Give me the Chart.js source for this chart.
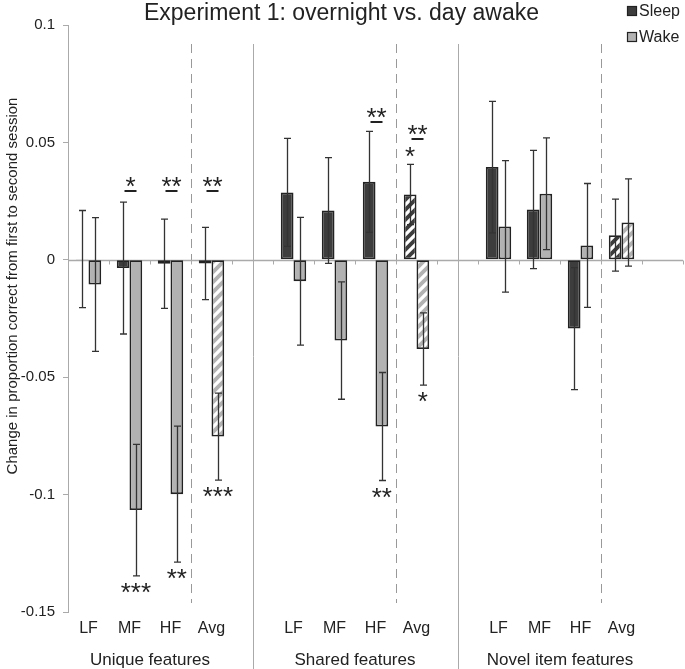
<!DOCTYPE html>
<html>
<head>
<meta charset="utf-8">
<script src="https://cdn.jsdelivr.net/npm/chart.js@4.4.0/dist/chart.umd.min.js"></script>
<style>
  html, body { margin: 0; padding: 0; background: #fff; }
</style>
</head>
<body>
<canvas id="chart" width="685" height="669"></canvas>
<script>
// categories: 3 groups of 4, with an empty slot after each group
const categories = ['LF', 'MF', 'HF', 'Avg', '', 'LF', 'MF', 'HF', 'Avg', '', 'LF', 'MF', 'HF', 'Avg', ''];
const groups = ['Unique features', 'Shared features', 'Novel item features'];

const sleep    = [0.0003, -0.0035, -0.0017, -0.0016, null, 0.0287, 0.0210, 0.0332, 0.0278, null, 0.0395, 0.0214, -0.0293, 0.0105, null];
const wake     = [-0.0105, -0.1066, -0.0998, -0.0753, null, -0.0091, -0.0344, -0.0710, -0.0380, null, 0.0142, 0.0281, 0.0061, 0.0159, null];
const sleepErr = [0.0207, 0.0281, 0.0190, 0.0154, null, 0.0230, 0.0225, 0.0215, 0.0128, null, 0.0280, 0.0252, 0.0260, 0.0153, null];
const wakeErr  = [0.0285, 0.0280, 0.0290, 0.0185, null, 0.0272, 0.0250, 0.0230, 0.0154, null, 0.0280, 0.0238, 0.0264, 0.0186, null];

const yTicks = [0.1, 0.05, 0, -0.05, -0.1, -0.15];
const yTitle = 'Change in proportion correct from first to second session';

// significance: sleep vs wake (bracket), and vs zero (next to the error bar)
const sigPairs = [
  { cat: 1, text: '*',  level: 0.0295 },
  { cat: 2, text: '**', level: 0.0295 },
  { cat: 3, text: '**', level: 0.0295 },
  { cat: 7, text: '**', level: 0.0585 },
  { cat: 8, text: '**', level: 0.0516 },
];
const sigSingle = [
  { cat: 1, series: 1, text: '***' },
  { cat: 2, series: 1, text: '**' },
  { cat: 3, series: 1, text: '***' },
  { cat: 7, series: 1, text: '**' },
  { cat: 8, series: 0, text: '*' },
  { cat: 8, series: 1, text: '*' },
];

const FONT = "'Liberation Sans', Arial, sans-serif";
const SLEEP_COL = '#3d3d3d';
const WAKE_COL = '#b2b2b2';

Chart.defaults.font.family = FONT;
Chart.defaults.color = '#222';

const ctx = document.getElementById('chart').getContext('2d');

function hatch(bg) {
  const t = document.createElement('canvas');
  t.width = 10; t.height = 10;
  const g = t.getContext('2d');
  g.fillStyle = bg;
  g.fillRect(0, 0, 10, 10);
  g.strokeStyle = '#fff';
  g.lineWidth = 3.2;
  g.beginPath();
  g.moveTo(-1, 11); g.lineTo(11, -1);
  g.moveTo(-3, 3); g.lineTo(3, -3);
  g.moveTo(7, 13); g.lineTo(13, 7);
  g.stroke();
  return ctx.createPattern(t, 'repeat');
}

const isAvg = categories.map(c => c === 'Avg');
const sleepFill = isAvg.map(a => a ? hatch(SLEEP_COL) : SLEEP_COL);
const wakeFill = isAvg.map(a => a ? hatch(WAKE_COL) : WAKE_COL);
const errs = [sleepErr, wakeErr];

const decorations = {
  id: 'decorations',
  beforeDatasetsDraw(chart) {
    const { ctx, chartArea, scales: { x, y } } = chart;
    const half = (x.getPixelForValue(1) - x.getPixelForValue(0)) / 2;
    ctx.save();
    // group separators
    ctx.strokeStyle = '#aaa';
    ctx.lineWidth = 1;
    [4, 9].forEach(i => {
      const px = Math.round(x.getPixelForValue(i)) + 0.5;
      ctx.beginPath();
      ctx.moveTo(px, chartArea.top + 19);
      ctx.lineTo(px, chart.height);
      ctx.stroke();
    });
    // dashed lines before Avg
    ctx.strokeStyle = '#999';
    ctx.setLineDash([9, 6]);
    [3, 8, 13].forEach(i => {
      const px = Math.round(x.getPixelForValue(i) - half) + 0.5;
      ctx.beginPath();
      ctx.moveTo(px, chartArea.top + 19);
      ctx.lineTo(px, chartArea.bottom - 9);
      ctx.stroke();
    });
    ctx.setLineDash([]);
    // zero line with ticks
    const y0 = Math.round(y.getPixelForValue(0)) + 0.5;
    ctx.strokeStyle = '#aaa';
    ctx.lineWidth = 1.5;
    ctx.beginPath();
    ctx.moveTo(chartArea.left, y0);
    ctx.lineTo(chartArea.right, y0);
    ctx.stroke();
    ctx.lineWidth = 1;
    for (let i = 0; i < categories.length; i++) {
      const px = Math.round(x.getPixelForValue(i) + half) + 0.5;
      ctx.beginPath();
      ctx.moveTo(px, y0);
      ctx.lineTo(px, y0 + 4);
      ctx.stroke();
    }
    ctx.restore();
  },
  afterDatasetsDraw(chart) {
    const { ctx, chartArea, scales: { x, y } } = chart;
    ctx.save();
    // error bars
    ctx.strokeStyle = '#333';
    ctx.lineWidth = 1.3;
    chart.data.datasets.forEach((ds, d) => {
      const meta = chart.getDatasetMeta(d);
      ds.data.forEach((v, i) => {
        if (v === null) return;
        const e = errs[d][i];
        const px = Math.round(meta.data[i].x) + 0.5;
        const t = y.getPixelForValue(v + e), b = y.getPixelForValue(v - e);
        ctx.beginPath();
        ctx.moveTo(px, t); ctx.lineTo(px, b);
        ctx.moveTo(px - 3.5, t); ctx.lineTo(px + 3.5, t);
        ctx.moveTo(px - 3.5, b); ctx.lineTo(px + 3.5, b);
        ctx.stroke();
      });
    });
    // asterisks
    ctx.fillStyle = '#222';
    ctx.font = '26px ' + FONT;
    ctx.textAlign = 'center';
    ctx.textBaseline = 'alphabetic';
    const star = (text, cx, cy) => {
      const m = ctx.measureText(text);
      ctx.fillText(text, cx, cy + (m.actualBoundingBoxAscent - m.actualBoundingBoxDescent) / 2);
    };
    sigPairs.forEach(s => {
      const cx = x.getPixelForValue(s.cat) + 1;
      const ly = Math.round(y.getPixelForValue(s.level));
      ctx.fillRect(cx - 6, ly - 1, 12, 2);
      star(s.text, cx, ly - 9);
    });
    sigSingle.forEach(s => {
      const meta = chart.getDatasetMeta(s.series);
      const v = chart.data.datasets[s.series].data[s.cat];
      const e = errs[s.series][s.cat];
      const cx = meta.data[s.cat].x;
      if (v >= 0) star(s.text, cx, y.getPixelForValue(v + e) - 12);
      else star(s.text, cx, y.getPixelForValue(v - e) + 12);
    });
    ctx.restore();
  },
  afterDraw(chart) {
    const { ctx, chartArea, scales: { x } } = chart;
    ctx.save();
    ctx.fillStyle = '#222';
    // y axis title
    ctx.font = '15px ' + FONT;
    ctx.textAlign = 'center';
    ctx.textBaseline = 'middle';
    ctx.save();
    ctx.translate(13, chartArea.top + 261);
    ctx.rotate(-Math.PI / 2);
    ctx.fillText(yTitle, 0, 0);
    ctx.restore();
    // group labels
    ctx.font = '17px ' + FONT;
    groups.forEach((g, k) => {
      const cx = (x.getPixelForValue(5 * k + 1) + x.getPixelForValue(5 * k + 2)) / 2;
      ctx.fillText(g, cx, chartArea.bottom + 48);
    });
    // legend
    ctx.font = '16px ' + FONT;
    ctx.textAlign = 'left';
    chart.data.datasets.forEach((ds, d) => {
      const ly = 6 + d * 26;
      ctx.fillStyle = ds.legendColor;
      ctx.fillRect(627, ly, 10, 10);
      ctx.strokeStyle = '#222';
      ctx.lineWidth = 1.2;
      ctx.strokeRect(627.5, ly + 0.5, 9, 9);
      ctx.fillStyle = '#222';
      ctx.fillText(ds.label, 639, ly + 6);
    });
    ctx.restore();
  }
};

new Chart(ctx, {
  type: 'bar',
  data: {
    labels: categories,
    datasets: [
      { label: 'Sleep', data: sleep, backgroundColor: sleepFill, legendColor: SLEEP_COL,
        borderColor: '#222', borderWidth: 1.8, borderSkipped: false },
      { label: 'Wake', data: wake, backgroundColor: wakeFill, legendColor: WAKE_COL,
        borderColor: '#222', borderWidth: 1.8, borderSkipped: false }
    ]
  },
  options: {
    responsive: false,
    animation: false,
    categoryPercentage: 0.62,
    barPercentage: 1,
    layout: { padding: { left: 0, right: 2, top: 0, bottom: 0 } },
    plugins: {
      legend: { display: false },
      tooltip: { enabled: false },
      title: {
        display: true,
        text: 'Experiment 1: overnight vs. day awake',
        color: '#222',
        font: { size: 23, weight: 'normal', lineHeight: 1 },
        padding: { top: 2, bottom: 0 }
      }
    },
    scales: {
      x: {
        grid: { display: false, drawTicks: false },
        border: { display: false },
        ticks: { font: { size: 16 }, color: '#222', padding: 7, maxRotation: 0, autoSkip: false },
        afterFit(s) { s.height = 57; }
      },
      y: {
        min: -0.15,
        max: 0.1,
        afterBuildTicks(s) { s.ticks = yTicks.map(v => ({ value: v })); },
        ticks: {
          font: { size: 15 }, color: '#222', padding: 8,
          callback: v => String(Number(v.toFixed(2)))
        },
        grid: { drawOnChartArea: false, drawTicks: true, tickLength: 5, color: '#aaa' },
        border: { display: true, color: '#aaa', width: 1 },
        afterFit(s) { s.width = 68; }
      }
    }
  },
  plugins: [decorations]
});
</script>
</body>
</html>
